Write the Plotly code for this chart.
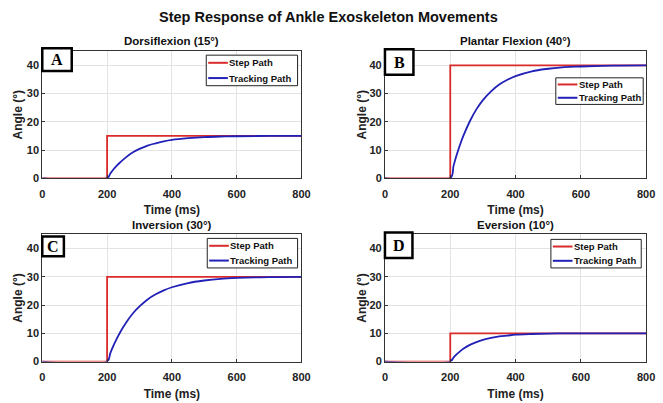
import plotly.graph_objects as go

# ---- data ----
time_ms = [0, 200, 210, 220, 230, 240, 260, 280, 300, 325, 350, 375, 400, 450, 500, 550, 600, 700, 800]
step_time = [0, 200, 200, 800]

titles = ["Dorsiflexion (15°)", "Plantar Flexion (40°)", "Inversion (30°)", "Eversion (10°)"]
panel_labels = ["A", "B", "C", "D"]
series_names = ["Step Path", "Tracking Path"]
targets = [15, 40, 30, 10]

track_A = [0, 0, 1.7, 3.2, 4.5, 5.6, 7.6, 9.2, 10.4, 11.6, 12.4, 13.1, 13.6, 14.2, 14.6, 14.8, 14.9, 15, 15]
track_B = [0, 0, 4.4, 8.4, 11.9, 15.0, 20.2, 24.4, 27.7, 30.8, 33.2, 34.9, 36.2, 37.9, 38.8, 39.4, 39.6, 39.9, 40]
track_C = [0, 0, 3.0, 5.7, 8.1, 10.3, 14.0, 17.1, 19.5, 22.0, 23.8, 25.2, 26.3, 27.8, 28.7, 29.3, 29.6, 29.9, 30]
track_D = [0, 0, 1.4, 2.6, 3.6, 4.5, 5.9, 6.9, 7.7, 8.4, 8.9, 9.2, 9.5, 9.75, 9.9, 9.95, 10, 10, 10]
tracks = [track_A, track_B, track_C, track_D]

x_ticks = [0, 200, 400, 600, 800]
y_ticks = [0, 10, 20, 30, 40]

# ---- layout geometry (pixels) ----
W, H = 663, 403
px_x = [(40, 304), (389, 655), (40, 304), (389, 655)]
px_y = [(52, 181), (52, 181), (238, 367), (238, 367)]
legend_box = [(207, 56, 300, 87), (563, 79, 652, 106), (208, 242, 300, 272), (558, 243, 650, 272)]
label_box = [(40, 70, 49, 72), (389, 418, 50, 76), (40, 62, 240, 260), (389, 417, 236, 262)]
title_y = [42, 42, 228, 228]
ytitle_standoff = [1, 0, 1, 0]

RED = "#d92b2b"
BLUE = "#2121b8"
COLORS = [RED, BLUE]
FONT = "Liberation Sans"


def px(xp, yp):
    return xp / W, 1 - yp / H


fig = go.Figure()
annotations, shapes = [], []
layout = dict(
    width=W, height=H, margin=dict(l=0, r=0, t=0, b=0),
    paper_bgcolor="white", plot_bgcolor="white",
    font=dict(family=FONT, color="#222"), showlegend=False,
)

for i in range(4):
    n = "" if i == 0 else str(i + 1)
    xa, ya = "x" + n, "y" + n
    fig.add_trace(go.Scatter(x=step_time, y=[0, 0, targets[i], targets[i]], mode="lines",
                             line=dict(color=RED, width=1.8), name=series_names[0],
                             xaxis=xa, yaxis=ya))
    fig.add_trace(go.Scatter(x=time_ms, y=tracks[i], mode="lines", line_shape="spline",
                             line=dict(color=BLUE, width=1.8), name=series_names[1],
                             xaxis=xa, yaxis=ya))
    x0, x1 = px_x[i]
    y0, y1 = px_y[i]
    common = dict(showgrid=True, gridcolor="#e3e3e3", gridwidth=1, showline=True, linecolor="#333",
                  linewidth=1, mirror=True, ticks="inside", ticklen=3, tickcolor="#333",
                  tickfont=dict(family=FONT, size=11, weight="bold", color="#222"), zeroline=False)
    layout["xaxis" + n] = dict(domain=[x0 / W, x1 / W], range=[0, 800], tickvals=x_ticks,
                               anchor=ya, ticklabelstandoff=5,
                               title=dict(text="Time (ms)", standoff=7,
                                          font=dict(family=FONT, size=12, weight="bold")),
                               **common)
    layout["yaxis" + n] = dict(domain=[1 - y1 / H, 1 - y0 / H], range=[0, 45], tickvals=y_ticks,
                               anchor=xa,
                               title=dict(text="Angle (°)", standoff=ytitle_standoff[i],
                                          font=dict(family=FONT, size=12, weight="bold")),
                               **common)
    # subplot title
    tx, ty = px((x0 + x1) / 2, title_y[i])
    annotations.append(dict(text=titles[i], xref="paper", yref="paper", x=tx, y=ty, showarrow=False,
                            font=dict(family=FONT, size=11.5, weight="bold", color="#111"),
                            xanchor="center", yanchor="middle"))
    # panel label box
    bx0, bx1, by0, by1 = label_box[i]
    shapes.append(dict(type="rect", xref="paper", yref="paper",
                       x0=bx0 / W, x1=bx1 / W, y0=1 - by1 / H, y1=1 - by0 / H,
                       line=dict(color="black", width=2.5), fillcolor="white"))
    lx, ly = px((bx0 + bx1) / 2, (by0 + by1) / 2)
    annotations.append(dict(text=panel_labels[i], xref="paper", yref="paper", x=lx, y=ly,
                            showarrow=False,
                            font=dict(family="Liberation Serif", size=16, weight="bold", color="black"),
                            xanchor="center", yanchor="middle"))
    # compact legend
    gl, gt, gr, gb = legend_box[i]
    shapes.append(dict(type="rect", xref="paper", yref="paper",
                       x0=gl / W, x1=gr / W, y0=1 - gb / H, y1=1 - gt / H,
                       line=dict(color="#222", width=1), fillcolor="white"))
    row_h = (gb - gt) / 2
    for k in range(2):
        ry = gt + row_h * (k + 0.5)
        sx0, sy = px(gl + 2, ry)
        sx1, _ = px(gl + 22, ry)
        shapes.append(dict(type="line", xref="paper", yref="paper", x0=sx0, x1=sx1, y0=sy, y1=sy,
                           line=dict(color=COLORS[k], width=2)))
        tx, _ = px(gl + 21.5, ry)
        annotations.append(dict(text=series_names[k], xref="paper", yref="paper", x=tx, y=sy,
                                showarrow=False, xanchor="left", yanchor="middle",
                                font=dict(family=FONT, size=9.5, weight="bold", color="#111")))

tx, ty = px(331, 17)
annotations.append(dict(text="Step Response of Ankle Exoskeleton Movements", xref="paper",
                        yref="paper", x=tx, y=ty, showarrow=False,
                        font=dict(family=FONT, size=14.5, weight="bold", color="#111"),
                        xanchor="center", yanchor="middle"))
layout["annotations"] = annotations
layout["shapes"] = shapes
fig.update_layout(**layout)
fig.write_html("out.html")
